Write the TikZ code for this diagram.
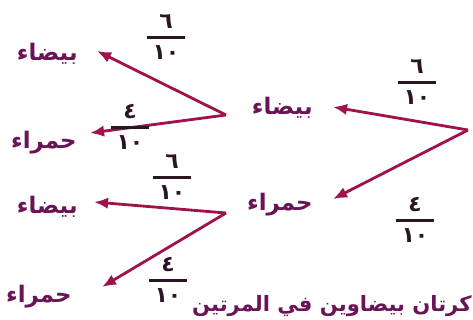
\documentclass[tikz,border=0pt]{standalone}
\usepackage{amsmath}
\usepackage{fontspec}
\usetikzlibrary{arrows.meta,calc}
\TeXXeTstate=1
\newfontfamily\arfont[Script=Arabic]{DejaVu Sans}
\definecolor{brch}{HTML}{A0124C}
\definecolor{word}{HTML}{6A1356}
\definecolor{ink}{HTML}{2B1424}
\newcommand{\kasr}[2]{$\genfrac{}{}{1.3pt}{0}{\text{\hspace{6pt}#1\hspace{6pt}}}{\text{\hspace{3pt}#2\hspace{3pt}}}$}

\begin{document}
\begin{tikzpicture}[
  x=0.02cm, y=-0.02cm,
  arr/.style={brch, line width=1.6pt, -{Latex[length=8pt,width=6.5pt]}},
  lbl/.style={font=\arfont\bfseries\fontsize{13}{15}\selectfont, text=word, inner sep=0pt, anchor=east},
  frc/.style={font=\arfont\bfseries\fontsize{12.5}{14}\selectfont, text=ink, inner sep=0pt}
]
\useasboundingbox (0,0) rectangle (473,320);
\clip (0,0) rectangle (473,320);

% branch points
\coordinate (root) at (468,130);
\coordinate (w) at (226,115);
\coordinate (r) at (226,213);

% arrow tips
\coordinate (tw) at (333,107);
\coordinate (tr) at (333,199);
\coordinate (tww) at (97,51);
\coordinate (twr) at (90,133);
\coordinate (trw) at (94,202);
\coordinate (trr) at (102,287);

% outcomes
\node[lbl] (lw) at ($(tw)+(-20,1)$) {\beginR بيضاء\endR};
\node[lbl] (lr) at ($(tr)+(-20,6)$) {\beginR حمراء\endR};
\node[lbl] (lww) at ($(tww)+(-19,3)$) {\beginR بيضاء\endR};
\node[lbl] (lwr) at ($(twr)+(-13,10)$) {\beginR حمراء\endR};
\node[lbl] (lrw) at ($(trw)+(-16,5)$) {\beginR بيضاء\endR};
\node[lbl] (lrr) at ($(trr)+(-30,10)$) {\beginR حمراء\endR};

% branches
\draw[arr] (root) -- (tw);
\draw[arr] (root) -- (tr);
\draw[arr] (w) -- (tww);
\draw[arr] (w) -- (twr);
\draw[arr] (r) -- (trw);
\draw[arr] (r) -- (trr);

% probabilities
\node[frc] (f1) at (417,82) {\kasr{٦}{١٠}};
\node[frc] (f2) at (415,220) {\kasr{٤}{١٠}};
\node[frc] (f3) at (166,37) {\kasr{٦}{١٠}};
\node[frc] (f4) at (130,127) {\kasr{٤}{١٠}};
\node[frc] (f5) at (172,177) {\kasr{٦}{١٠}};
\node[frc] (f6) at (168,280) {\kasr{٤}{١٠}};

\node[font=\arfont\bfseries\fontsize{12}{14}\selectfont, text=word, anchor=base east, inner sep=0pt] (cap) at (472,312) {\beginR كرتان بيضاوين في المرتين\endR};
\end{tikzpicture}
\end{document}
